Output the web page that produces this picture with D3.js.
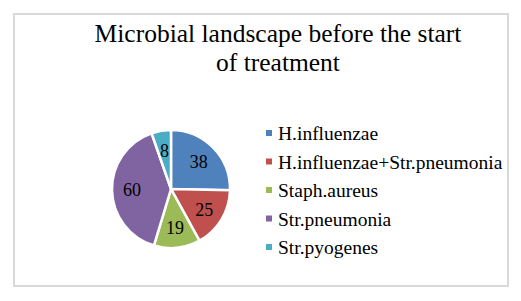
<!DOCTYPE html>
<html><head><meta charset="utf-8">
<script src="https://cdn.jsdelivr.net/npm/d3@7"></script>
<style>html,body{margin:0;padding:0;background:#fff;} svg text{font-family:"Liberation Serif","Times New Roman",Times,"DejaVu Serif",serif;}</style>
</head><body>
<script>
const categories = ["H.influenzae","H.influenzae+Str.pneumonia","Staph.aureus","Str.pneumonia","Str.pyogenes"];
const values = [38,25,19,60,8];
const colors = ["#4F81BD","#C0504D","#9BBB59","#8064A2","#4BACC6"];
const titleLines = ["Microbial landscape before the start","of treatment"];

const W=521,H=301;
const svg=d3.select("body").append("svg").attr("width",W).attr("height",H);
svg.append("rect").attr("x",14).attr("y",14).attr("width",494).attr("height",272)
  .attr("fill","#fff").attr("stroke","#d9d9d9").attr("stroke-width",2);

svg.append("g").selectAll("text").data(titleLines).join("text")
  .attr("x",278).attr("y",(d,i)=>42+i*29).attr("text-anchor","middle")
  .attr("font-size",25.5).attr("fill","#000").text(d=>d);

const cx=171,cy=189,r=59;
const pie=d3.pie().sort(null).value(d=>d)(values);
const arc=d3.arc().innerRadius(0).outerRadius(r);
const g=svg.append("g").attr("transform",`translate(${cx},${cy})`);
g.selectAll("path").data(pie).join("path").attr("d",arc)
  .attr("fill",(d,i)=>colors[i]).attr("stroke","#fff").attr("stroke-width",2.5).attr("stroke-linejoin","miter");
const labelArc=d3.arc().innerRadius(r*0.66).outerRadius(r*0.66);
g.selectAll("text").data(pie).join("text")
  .attr("transform",d=>`translate(${labelArc.centroid(d)})`)
  .attr("text-anchor","middle").attr("dy","0.36em")
  .attr("font-size",18).attr("fill","#000").text(d=>d.data);

const lg=svg.append("g");
const items=lg.selectAll("g").data(categories).join("g")
  .attr("transform",(d,i)=>`translate(266,${133+i*28.5})`);
items.append("rect").attr("x",0).attr("y",-3).attr("width",6).attr("height",6).attr("fill",(d,i)=>colors[i]);
items.append("text").attr("x",12).attr("y",0).attr("dy","0.36em")
  .attr("font-size",19.5).attr("fill","#000").text(d=>d);
</script>
</body></html>
